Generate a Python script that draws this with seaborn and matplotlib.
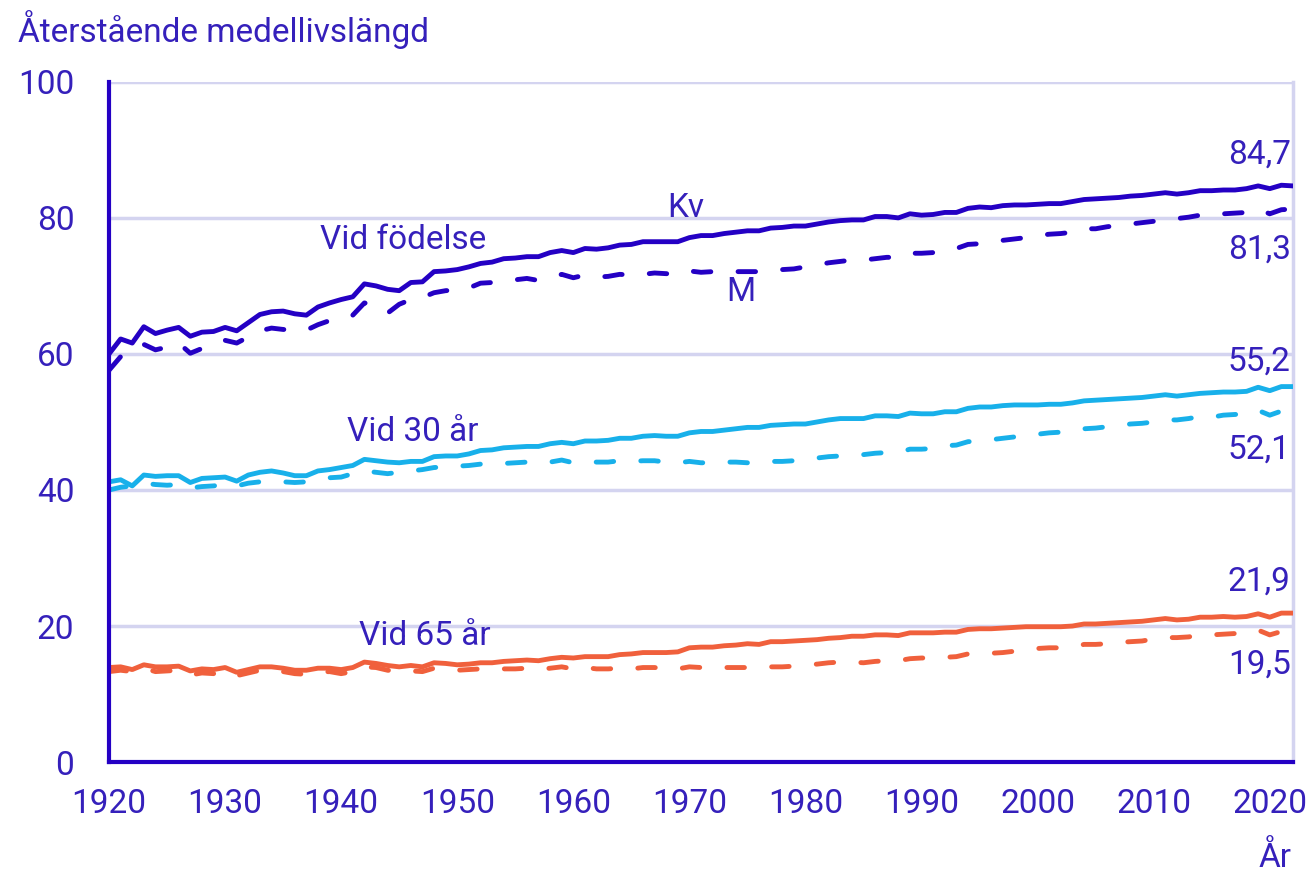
import pandas as pd
import matplotlib.pyplot as plt
import seaborn as sns
from matplotlib.ticker import MultipleLocator, FuncFormatter

# Years 1920-2022
years = list(range(1920, 2023))

# Remaining life expectancy, women (Kv) and men (M)
kv_0 = [60.0, 62.2, 61.6, 64.0, 63.0, 63.5, 63.9, 62.6, 63.2, 63.3,
        63.9, 63.4, 64.6, 65.8, 66.2, 66.3, 65.9, 65.7, 66.9, 67.5,
        68.0, 68.4, 70.3, 70.0, 69.5, 69.3, 70.5, 70.6, 72.1, 72.2,
        72.4, 72.8, 73.3, 73.5, 74.0, 74.1, 74.3, 74.3, 74.9, 75.2,
        74.9, 75.5, 75.4, 75.6, 76.0, 76.1, 76.5, 76.5, 76.5, 76.5,
        77.1, 77.4, 77.4, 77.7, 77.9, 78.1, 78.1, 78.5, 78.6, 78.8,
        78.8, 79.1, 79.4, 79.6, 79.7, 79.7, 80.2, 80.2, 80.0, 80.6,
        80.4, 80.5, 80.8, 80.8, 81.4, 81.6, 81.5, 81.8, 81.9, 81.9,
        82.0, 82.1, 82.1, 82.4, 82.7, 82.8, 82.9, 83.0, 83.2, 83.3,
        83.5, 83.7, 83.5, 83.7, 84.0, 84.0, 84.1, 84.1, 84.3, 84.7,
        84.3, 84.8, 84.7]
m_0 = [57.6, 59.6, 60.5, 61.4, 60.6, 61.0, 61.6, 60.1, 60.8, 61.2,
       62.0, 61.6, 62.5, 63.4, 63.8, 63.6, 63.5, 63.5, 64.3, 64.9,
       65.0, 65.7, 67.5, 67.1, 66.0, 67.3, 68.0, 68.3, 69.0, 69.3,
       69.4, 69.7, 70.4, 70.5, 70.6, 70.9, 71.1, 70.8, 71.2, 71.7,
       71.2, 71.6, 71.3, 71.4, 71.7, 71.6, 71.7, 71.9, 71.8, 71.7,
       72.2, 72.0, 72.1, 72.1, 72.1, 72.1, 72.1, 72.4, 72.4, 72.5,
       72.8, 73.1, 73.4, 73.6, 73.8, 73.8, 74.0, 74.2, 74.2, 74.8,
       74.8, 74.9, 75.4, 75.5, 76.1, 76.2, 76.5, 76.7, 76.9, 77.1,
       77.4, 77.6, 77.7, 77.9, 78.4, 78.4, 78.7, 78.9, 79.1, 79.3,
       79.5, 79.8, 79.9, 80.1, 80.4, 80.3, 80.6, 80.7, 80.8, 81.3,
       80.6, 81.2, 81.3]
kv_30 = [41.2, 41.5, 40.6, 42.2, 42.0, 42.1, 42.1, 41.1, 41.7, 41.8,
         41.9, 41.3, 42.2, 42.6, 42.8, 42.5, 42.1, 42.1, 42.8, 43.0,
         43.3, 43.6, 44.5, 44.3, 44.1, 44.0, 44.2, 44.2, 44.9, 45.0,
         45.0, 45.3, 45.8, 45.9, 46.2, 46.3, 46.4, 46.4, 46.8, 47.0,
         46.8, 47.2, 47.2, 47.3, 47.6, 47.6, 47.9, 48.0, 47.9, 47.9,
         48.4, 48.6, 48.6, 48.8, 49.0, 49.2, 49.2, 49.5, 49.6, 49.7,
         49.7, 50.0, 50.3, 50.5, 50.5, 50.5, 50.9, 50.9, 50.8, 51.3,
         51.2, 51.2, 51.5, 51.5, 52.0, 52.2, 52.2, 52.4, 52.5, 52.5,
         52.5, 52.6, 52.6, 52.8, 53.1, 53.2, 53.3, 53.4, 53.5, 53.6,
         53.8, 54.0, 53.8, 54.0, 54.2, 54.3, 54.4, 54.4, 54.5, 55.1,
         54.6, 55.2, 55.2]
m_30 = [40.0, 40.4, 40.6, 41.0, 40.8, 40.7, 40.8, 40.3, 40.5, 40.6,
        40.8, 40.6, 41.0, 41.2, 41.3, 41.2, 41.1, 41.2, 41.6, 41.8,
        41.9, 42.4, 42.8, 42.6, 42.4, 42.6, 42.8, 43.0, 43.3, 43.4,
        43.5, 43.6, 43.8, 43.8, 43.9, 44.0, 44.1, 43.9, 44.1, 44.4,
        44.0, 44.2, 44.1, 44.1, 44.3, 44.2, 44.3, 44.3, 44.1, 44.0,
        44.2, 44.0, 44.0, 44.1, 44.1, 44.0, 44.0, 44.2, 44.2, 44.3,
        44.5, 44.7, 44.9, 45.0, 45.2, 45.2, 45.4, 45.5, 45.5, 46.0,
        46.0, 46.1, 46.5, 46.6, 47.1, 47.2, 47.4, 47.6, 47.8, 48.0,
        48.2, 48.4, 48.5, 48.6, 49.0, 49.1, 49.3, 49.5, 49.7, 49.8,
        50.0, 50.3, 50.3, 50.5, 50.8, 50.7, 51.0, 51.1, 51.2, 51.7,
        51.0, 51.6, 52.1]
kv_65 = [13.9, 14.0, 13.6, 14.3, 14.0, 14.0, 14.1, 13.4, 13.7, 13.6,
         13.9, 13.2, 13.6, 14.0, 14.0, 13.8, 13.5, 13.5, 13.8, 13.8,
         13.6, 13.9, 14.7, 14.5, 14.2, 14.0, 14.2, 14.0, 14.6, 14.5,
         14.3, 14.4, 14.6, 14.6, 14.8, 14.9, 15.0, 14.9, 15.2, 15.4,
         15.3, 15.5, 15.5, 15.5, 15.8, 15.9, 16.1, 16.1, 16.1, 16.2,
         16.8, 16.9, 16.9, 17.1, 17.2, 17.4, 17.3, 17.7, 17.7, 17.8,
         17.9, 18.0, 18.2, 18.3, 18.5, 18.5, 18.7, 18.7, 18.6, 19.0,
         19.0, 19.0, 19.1, 19.1, 19.5, 19.6, 19.6, 19.7, 19.8, 19.9,
         19.9, 19.9, 19.9, 20.0, 20.3, 20.3, 20.4, 20.5, 20.6, 20.7,
         20.9, 21.1, 20.9, 21.0, 21.3, 21.3, 21.4, 21.3, 21.4, 21.8,
         21.3, 21.9, 21.9]
m_65 = [13.3, 13.5, 13.3, 13.8, 13.3, 13.4, 13.5, 12.8, 13.1, 13.0,
        13.4, 12.7, 13.1, 13.5, 13.6, 13.3, 13.0, 12.9, 13.2, 13.3,
        13.0, 13.3, 14.0, 13.9, 13.5, 13.3, 13.4, 13.3, 13.8, 13.7,
        13.5, 13.6, 13.7, 13.6, 13.7, 13.7, 13.8, 13.6, 13.8, 14.0,
        13.7, 13.9, 13.7, 13.7, 13.8, 13.7, 13.9, 13.9, 13.7, 13.7,
        14.0, 13.9, 13.9, 13.9, 13.9, 13.9, 13.9, 14.0, 14.0, 14.1,
        14.3, 14.4, 14.6, 14.7, 14.7, 14.6, 14.8, 14.9, 14.9, 15.2,
        15.3, 15.3, 15.4, 15.5, 15.9, 15.9, 16.0, 16.1, 16.3, 16.5,
        16.7, 16.8, 16.8, 16.9, 17.3, 17.3, 17.4, 17.6, 17.7, 17.8,
        18.1, 18.3, 18.3, 18.4, 18.7, 18.7, 18.8, 18.9, 19.0, 19.4,
        18.7, 19.2, 19.5]

groups = ["Vid födelse", "Vid 30 år", "Vid 65 år"]
sexes = ["Kv", "M"]

DARK = "#2400c4"
TEXT = "#3520bb"
GRID = "#d4d4f0"
palette = {"Vid födelse": "#2400c4", "Vid 30 år": "#18b0ea", "Vid 65 år": "#f0603c"}

series = {("Vid födelse", "Kv"): kv_0, ("Vid födelse", "M"): m_0,
          ("Vid 30 år", "Kv"): kv_30, ("Vid 30 år", "M"): m_30,
          ("Vid 65 år", "Kv"): kv_65, ("Vid 65 år", "M"): m_65}
frames = []
for (g, s), vals in series.items():
    frames.append(pd.DataFrame({"year": years, "value": vals, "group": g, "sex": s}))
df = pd.concat(frames, ignore_index=True)

sns.set_style("white")
plt.rcParams["font.family"] = ["Roboto", "DejaVu Sans"]
plt.rcParams["lines.dash_capstyle"] = "round"
plt.rcParams["lines.solid_capstyle"] = "round"
plt.rcParams["lines.dash_joinstyle"] = "round"

fig = plt.figure(figsize=(13.12, 8.8), dpi=100)
ax = fig.add_axes([0.0831, 0.134, 0.9024, 0.773])

for y in [20, 40, 60, 80, 100]:
    ax.axhline(y, color=GRID, lw=2.5, zorder=0)

sns.lineplot(data=df, x="year", y="value", hue="group", style="sex",
             palette=palette, dashes={"Kv": "", "M": (3.6, 5.6)},
             linewidth=3.5, legend=False, ax=ax, zorder=3)

ax.set_xlim(1920, 2022)
ax.set_ylim(0, 100)
ax.set_xlabel("")
ax.set_ylabel("")

ax.spines["top"].set_visible(False)
ax.spines["right"].set_color(GRID)
ax.spines["right"].set_linewidth(2.5)
ax.spines["left"].set_color(DARK)
ax.spines["left"].set_linewidth(3)
ax.spines["bottom"].set_color(DARK)
ax.spines["bottom"].set_linewidth(3)
ax.spines["left"].set_zorder(4)
ax.spines["bottom"].set_zorder(4)

fs = 24
ax.xaxis.set_major_locator(MultipleLocator(10))
ax.xaxis.set_minor_locator(MultipleLocator(5))
ax.yaxis.set_major_locator(MultipleLocator(20))
ax.tick_params(axis="x", which="both", direction="out", length=10, width=3,
               color=DARK, labelcolor=TEXT, labelsize=fs, pad=9)
ax.tick_params(axis="y", direction="out", length=13, width=3,
               color=DARK, labelcolor=TEXT, labelsize=fs, pad=12)
ax.yaxis.set_major_formatter(FuncFormatter(lambda v, p: f"{v:.0f}"))

ax.text(1969.7, 81.5, "Kv", color=TEXT, fontsize=fs, ha="center", va="center")
ax.text(1974.4, 69.1, "M", color=TEXT, fontsize=fs, ha="center", va="center")
ax.text(1945.3, 76.8, "Vid födelse", color=TEXT, fontsize=fs, ha="center", va="center")
ax.text(1946.2, 48.5, "Vid 30 år", color=TEXT, fontsize=fs, ha="center", va="center")
ax.text(1947.2, 18.5, "Vid 65 år", color=TEXT, fontsize=fs, ha="center", va="center")

for label, yv in [("84,7", 89.3), ("81,3", 75.3), ("55,2", 58.8),
                  ("52,1", 45.9), ("21,9", 26.5), ("19,5", 14.3)]:
    ax.text(2021.8, yv, label, color=TEXT, fontsize=fs, ha="right", va="center")

fig.text(18 / 1312, 1 - 30 / 880, "Återstående medellivslängd", color=TEXT,
         fontsize=fs, ha="left", va="center")
fig.text(1292 / 1312, 1 - 858 / 880, "År", color=TEXT, fontsize=fs,
         ha="right", va="center")

plt.savefig("out.png", dpi=100)
plt.close()
